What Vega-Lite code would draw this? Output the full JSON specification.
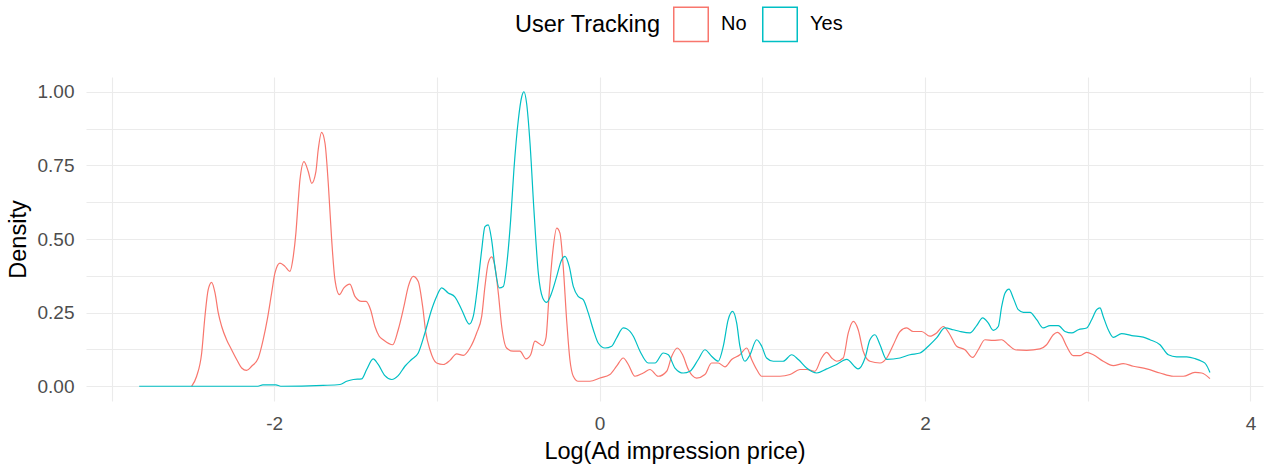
{
  "$schema": "https://vega.github.io/schema/vega-lite/v6.json",
  "width": 1177,
  "height": 324,
  "autosize": {"type": "none"},
  "padding": {"left": 86, "top": 77, "right": 5, "bottom": 67},
  "background": "white",
  "config": {
    "view": {"stroke": null},
    "font": "Liberation Sans",
    "axis": {"gridColor": "#EBEBEB", "gridWidth": 1.1, "domain": false, "ticks": false, "labelColor": "#4D4D4D", "labelFontSize": 19, "titleFontSize": 23.5, "titleFontWeight": "normal", "titleColor": "#000000"}
  },
  "data": {"values": [
{"x":-2.508,"y":0,"g":"No"},{"x":-2.477,"y":0.034,"g":"No"},{"x":-2.446,"y":0.113,"g":"No"},{"x":-2.426,"y":0.237,"g":"No"},{"x":-2.406,"y":0.328,"g":"No"},{"x":-2.385,"y":0.353,"g":"No"},{"x":-2.364,"y":0.317,"g":"No"},{"x":-2.344,"y":0.249,"g":"No"},{"x":-2.323,"y":0.203,"g":"No"},{"x":-2.293,"y":0.158,"g":"No"},{"x":-2.262,"y":0.124,"g":"No"},{"x":-2.231,"y":0.091,"g":"No"},{"x":-2.2,"y":0.062,"g":"No"},{"x":-2.17,"y":0.054,"g":"No"},{"x":-2.139,"y":0.068,"g":"No"},{"x":-2.098,"y":0.096,"g":"No"},{"x":-2.068,"y":0.158,"g":"No"},{"x":-2.043,"y":0.226,"g":"No"},{"x":-2.016,"y":0.317,"g":"No"},{"x":-1.996,"y":0.384,"g":"No"},{"x":-1.965,"y":0.418,"g":"No"},{"x":-1.934,"y":0.407,"g":"No"},{"x":-1.904,"y":0.39,"g":"No"},{"x":-1.883,"y":0.441,"g":"No"},{"x":-1.867,"y":0.52,"g":"No"},{"x":-1.852,"y":0.633,"g":"No"},{"x":-1.842,"y":0.701,"g":"No"},{"x":-1.817,"y":0.763,"g":"No"},{"x":-1.791,"y":0.729,"g":"No"},{"x":-1.77,"y":0.689,"g":"No"},{"x":-1.744,"y":0.729,"g":"No"},{"x":-1.73,"y":0.802,"g":"No"},{"x":-1.709,"y":0.862,"g":"No"},{"x":-1.688,"y":0.825,"g":"No"},{"x":-1.668,"y":0.689,"g":"No"},{"x":-1.647,"y":0.497,"g":"No"},{"x":-1.627,"y":0.362,"g":"No"},{"x":-1.6,"y":0.311,"g":"No"},{"x":-1.572,"y":0.334,"g":"No"},{"x":-1.535,"y":0.347,"g":"No"},{"x":-1.504,"y":0.305,"g":"No"},{"x":-1.463,"y":0.288,"g":"No"},{"x":-1.436,"y":0.288,"g":"No"},{"x":-1.408,"y":0.26,"g":"No"},{"x":-1.381,"y":0.203,"g":"No"},{"x":-1.355,"y":0.17,"g":"No"},{"x":-1.33,"y":0.158,"g":"No"},{"x":-1.272,"y":0.141,"g":"No"},{"x":-1.238,"y":0.192,"g":"No"},{"x":-1.203,"y":0.271,"g":"No"},{"x":-1.176,"y":0.339,"g":"No"},{"x":-1.146,"y":0.373,"g":"No"},{"x":-1.115,"y":0.356,"g":"No"},{"x":-1.088,"y":0.271,"g":"No"},{"x":-1.068,"y":0.181,"g":"No"},{"x":-1.043,"y":0.124,"g":"No"},{"x":-1.002,"y":0.079,"g":"No"},{"x":-0.961,"y":0.074,"g":"No"},{"x":-0.92,"y":0.088,"g":"No"},{"x":-0.879,"y":0.11,"g":"No"},{"x":-0.838,"y":0.105,"g":"No"},{"x":-0.797,"y":0.13,"g":"No"},{"x":-0.756,"y":0.181,"g":"No"},{"x":-0.725,"y":0.237,"g":"No"},{"x":-0.705,"y":0.339,"g":"No"},{"x":-0.685,"y":0.418,"g":"No"},{"x":-0.664,"y":0.439,"g":"No"},{"x":-0.644,"y":0.407,"g":"No"},{"x":-0.623,"y":0.317,"g":"No"},{"x":-0.602,"y":0.203,"g":"No"},{"x":-0.572,"y":0.13,"g":"No"},{"x":-0.531,"y":0.119,"g":"No"},{"x":-0.49,"y":0.119,"g":"No"},{"x":-0.453,"y":0.093,"g":"No"},{"x":-0.424,"y":0.107,"g":"No"},{"x":-0.398,"y":0.153,"g":"No"},{"x":-0.377,"y":0.147,"g":"No"},{"x":-0.35,"y":0.138,"g":"No"},{"x":-0.33,"y":0.164,"g":"No"},{"x":-0.31,"y":0.317,"g":"No"},{"x":-0.289,"y":0.452,"g":"No"},{"x":-0.264,"y":0.537,"g":"No"},{"x":-0.244,"y":0.52,"g":"No"},{"x":-0.224,"y":0.407,"g":"No"},{"x":-0.203,"y":0.226,"g":"No"},{"x":-0.183,"y":0.091,"g":"No"},{"x":-0.162,"y":0.034,"g":"No"},{"x":-0.132,"y":0.017,"g":"No"},{"x":-0.06,"y":0.017,"g":"No"},{"x":0.002,"y":0.028,"g":"No"},{"x":0.063,"y":0.04,"g":"No"},{"x":0.104,"y":0.068,"g":"No"},{"x":0.145,"y":0.096,"g":"No"},{"x":0.176,"y":0.074,"g":"No"},{"x":0.217,"y":0.034,"g":"No"},{"x":0.268,"y":0.045,"g":"No"},{"x":0.309,"y":0.057,"g":"No"},{"x":0.36,"y":0.034,"g":"No"},{"x":0.412,"y":0.051,"g":"No"},{"x":0.443,"y":0.102,"g":"No"},{"x":0.477,"y":0.13,"g":"No"},{"x":0.51,"y":0.107,"g":"No"},{"x":0.545,"y":0.057,"g":"No"},{"x":0.596,"y":0.028,"g":"No"},{"x":0.647,"y":0.04,"g":"No"},{"x":0.688,"y":0.079,"g":"No"},{"x":0.729,"y":0.079,"g":"No"},{"x":0.77,"y":0.066,"g":"No"},{"x":0.811,"y":0.091,"g":"No"},{"x":0.862,"y":0.107,"g":"No"},{"x":0.904,"y":0.13,"g":"No"},{"x":0.934,"y":0.091,"g":"No"},{"x":0.965,"y":0.057,"g":"No"},{"x":0.996,"y":0.034,"g":"No"},{"x":1.108,"y":0.034,"g":"No"},{"x":1.17,"y":0.04,"g":"No"},{"x":1.231,"y":0.057,"g":"No"},{"x":1.272,"y":0.057,"g":"No"},{"x":1.323,"y":0.051,"g":"No"},{"x":1.364,"y":0.096,"g":"No"},{"x":1.395,"y":0.115,"g":"No"},{"x":1.426,"y":0.096,"g":"No"},{"x":1.457,"y":0.085,"g":"No"},{"x":1.497,"y":0.096,"g":"No"},{"x":1.528,"y":0.181,"g":"No"},{"x":1.559,"y":0.22,"g":"No"},{"x":1.589,"y":0.192,"g":"No"},{"x":1.62,"y":0.119,"g":"No"},{"x":1.661,"y":0.085,"g":"No"},{"x":1.723,"y":0.079,"g":"No"},{"x":1.764,"y":0.096,"g":"No"},{"x":1.805,"y":0.141,"g":"No"},{"x":1.846,"y":0.186,"g":"No"},{"x":1.887,"y":0.198,"g":"No"},{"x":1.927,"y":0.186,"g":"No"},{"x":1.979,"y":0.186,"g":"No"},{"x":2.03,"y":0.17,"g":"No"},{"x":2.071,"y":0.181,"g":"No"},{"x":2.112,"y":0.203,"g":"No"},{"x":2.153,"y":0.175,"g":"No"},{"x":2.194,"y":0.136,"g":"No"},{"x":2.245,"y":0.124,"g":"No"},{"x":2.293,"y":0.098,"g":"No"},{"x":2.327,"y":0.124,"g":"No"},{"x":2.368,"y":0.158,"g":"No"},{"x":2.419,"y":0.156,"g":"No"},{"x":2.471,"y":0.158,"g":"No"},{"x":2.511,"y":0.141,"g":"No"},{"x":2.553,"y":0.124,"g":"No"},{"x":2.624,"y":0.122,"g":"No"},{"x":2.706,"y":0.127,"g":"No"},{"x":2.747,"y":0.141,"g":"No"},{"x":2.788,"y":0.175,"g":"No"},{"x":2.813,"y":0.183,"g":"No"},{"x":2.84,"y":0.17,"g":"No"},{"x":2.87,"y":0.136,"g":"No"},{"x":2.911,"y":0.104,"g":"No"},{"x":2.952,"y":0.104,"g":"No"},{"x":2.993,"y":0.115,"g":"No"},{"x":3.034,"y":0.107,"g":"No"},{"x":3.095,"y":0.085,"g":"No"},{"x":3.157,"y":0.07,"g":"No"},{"x":3.218,"y":0.077,"g":"No"},{"x":3.28,"y":0.068,"g":"No"},{"x":3.362,"y":0.059,"g":"No"},{"x":3.444,"y":0.045,"g":"No"},{"x":3.526,"y":0.034,"g":"No"},{"x":3.587,"y":0.034,"g":"No"},{"x":3.659,"y":0.047,"g":"No"},{"x":3.7,"y":0.045,"g":"No"},{"x":3.751,"y":0.026,"g":"No"},
{"x":-2.83,"y":0,"g":"Yes"},{"x":-2.1,"y":0,"g":"Yes"},{"x":-2.07,"y":0.005,"g":"Yes"},{"x":-1.99,"y":0.005,"g":"Yes"},{"x":-1.96,"y":0,"g":"Yes"},{"x":-1.7,"y":0.003,"g":"Yes"},{"x":-1.596,"y":0.006,"g":"Yes"},{"x":-1.555,"y":0.017,"g":"Yes"},{"x":-1.514,"y":0.023,"g":"Yes"},{"x":-1.463,"y":0.025,"g":"Yes"},{"x":-1.432,"y":0.057,"g":"Yes"},{"x":-1.392,"y":0.093,"g":"Yes"},{"x":-1.361,"y":0.074,"g":"Yes"},{"x":-1.32,"y":0.036,"g":"Yes"},{"x":-1.278,"y":0.023,"g":"Yes"},{"x":-1.238,"y":0.036,"g":"Yes"},{"x":-1.197,"y":0.068,"g":"Yes"},{"x":-1.156,"y":0.091,"g":"Yes"},{"x":-1.115,"y":0.113,"g":"Yes"},{"x":-1.074,"y":0.181,"g":"Yes"},{"x":-1.033,"y":0.26,"g":"Yes"},{"x":-1.002,"y":0.305,"g":"Yes"},{"x":-0.971,"y":0.334,"g":"Yes"},{"x":-0.931,"y":0.317,"g":"Yes"},{"x":-0.889,"y":0.303,"g":"Yes"},{"x":-0.848,"y":0.26,"g":"Yes"},{"x":-0.801,"y":0.211,"g":"Yes"},{"x":-0.777,"y":0.237,"g":"Yes"},{"x":-0.746,"y":0.36,"g":"Yes"},{"x":-0.725,"y":0.463,"g":"Yes"},{"x":-0.705,"y":0.542,"g":"Yes"},{"x":-0.685,"y":0.548,"g":"Yes"},{"x":-0.664,"y":0.497,"g":"Yes"},{"x":-0.644,"y":0.407,"g":"Yes"},{"x":-0.617,"y":0.334,"g":"Yes"},{"x":-0.592,"y":0.339,"g":"Yes"},{"x":-0.568,"y":0.429,"g":"Yes"},{"x":-0.547,"y":0.565,"g":"Yes"},{"x":-0.527,"y":0.735,"g":"Yes"},{"x":-0.5,"y":0.904,"g":"Yes"},{"x":-0.479,"y":0.983,"g":"Yes"},{"x":-0.465,"y":1.0,"g":"Yes"},{"x":-0.449,"y":0.961,"g":"Yes"},{"x":-0.428,"y":0.825,"g":"Yes"},{"x":-0.404,"y":0.599,"g":"Yes"},{"x":-0.377,"y":0.384,"g":"Yes"},{"x":-0.35,"y":0.3,"g":"Yes"},{"x":-0.326,"y":0.285,"g":"Yes"},{"x":-0.295,"y":0.317,"g":"Yes"},{"x":-0.264,"y":0.373,"g":"Yes"},{"x":-0.234,"y":0.429,"g":"Yes"},{"x":-0.213,"y":0.441,"g":"Yes"},{"x":-0.187,"y":0.407,"g":"Yes"},{"x":-0.162,"y":0.339,"g":"Yes"},{"x":-0.132,"y":0.305,"g":"Yes"},{"x":-0.101,"y":0.294,"g":"Yes"},{"x":-0.07,"y":0.249,"g":"Yes"},{"x":-0.039,"y":0.192,"g":"Yes"},{"x":-0.009,"y":0.147,"g":"Yes"},{"x":0.033,"y":0.13,"g":"Yes"},{"x":0.074,"y":0.136,"g":"Yes"},{"x":0.104,"y":0.164,"g":"Yes"},{"x":0.145,"y":0.198,"g":"Yes"},{"x":0.166,"y":0.195,"g":"Yes"},{"x":0.207,"y":0.17,"g":"Yes"},{"x":0.248,"y":0.119,"g":"Yes"},{"x":0.299,"y":0.079,"g":"Yes"},{"x":0.34,"y":0.079,"g":"Yes"},{"x":0.391,"y":0.113,"g":"Yes"},{"x":0.422,"y":0.107,"g":"Yes"},{"x":0.463,"y":0.062,"g":"Yes"},{"x":0.514,"y":0.045,"g":"Yes"},{"x":0.555,"y":0.051,"g":"Yes"},{"x":0.606,"y":0.091,"g":"Yes"},{"x":0.647,"y":0.124,"g":"Yes"},{"x":0.688,"y":0.102,"g":"Yes"},{"x":0.729,"y":0.085,"g":"Yes"},{"x":0.76,"y":0.136,"g":"Yes"},{"x":0.79,"y":0.226,"g":"Yes"},{"x":0.817,"y":0.254,"g":"Yes"},{"x":0.842,"y":0.215,"g":"Yes"},{"x":0.862,"y":0.136,"g":"Yes"},{"x":0.893,"y":0.085,"g":"Yes"},{"x":0.924,"y":0.107,"g":"Yes"},{"x":0.965,"y":0.158,"g":"Yes"},{"x":0.996,"y":0.136,"g":"Yes"},{"x":1.026,"y":0.096,"g":"Yes"},{"x":1.067,"y":0.085,"g":"Yes"},{"x":1.128,"y":0.085,"g":"Yes"},{"x":1.18,"y":0.107,"g":"Yes"},{"x":1.221,"y":0.091,"g":"Yes"},{"x":1.272,"y":0.062,"g":"Yes"},{"x":1.334,"y":0.045,"g":"Yes"},{"x":1.395,"y":0.059,"g":"Yes"},{"x":1.457,"y":0.074,"g":"Yes"},{"x":1.518,"y":0.091,"g":"Yes"},{"x":1.589,"y":0.059,"g":"Yes"},{"x":1.631,"y":0.096,"g":"Yes"},{"x":1.661,"y":0.158,"g":"Yes"},{"x":1.692,"y":0.175,"g":"Yes"},{"x":1.723,"y":0.141,"g":"Yes"},{"x":1.764,"y":0.091,"g":"Yes"},{"x":1.846,"y":0.096,"g":"Yes"},{"x":1.907,"y":0.107,"g":"Yes"},{"x":1.969,"y":0.113,"g":"Yes"},{"x":2.02,"y":0.136,"g":"Yes"},{"x":2.071,"y":0.164,"g":"Yes"},{"x":2.122,"y":0.198,"g":"Yes"},{"x":2.173,"y":0.192,"g":"Yes"},{"x":2.215,"y":0.186,"g":"Yes"},{"x":2.276,"y":0.181,"g":"Yes"},{"x":2.317,"y":0.206,"g":"Yes"},{"x":2.354,"y":0.232,"g":"Yes"},{"x":2.388,"y":0.215,"g":"Yes"},{"x":2.419,"y":0.19,"g":"Yes"},{"x":2.45,"y":0.203,"g":"Yes"},{"x":2.471,"y":0.271,"g":"Yes"},{"x":2.491,"y":0.316,"g":"Yes"},{"x":2.516,"y":0.33,"g":"Yes"},{"x":2.542,"y":0.3,"g":"Yes"},{"x":2.573,"y":0.26,"g":"Yes"},{"x":2.604,"y":0.251,"g":"Yes"},{"x":2.645,"y":0.251,"g":"Yes"},{"x":2.686,"y":0.226,"g":"Yes"},{"x":2.726,"y":0.198,"g":"Yes"},{"x":2.768,"y":0.206,"g":"Yes"},{"x":2.819,"y":0.206,"g":"Yes"},{"x":2.86,"y":0.186,"g":"Yes"},{"x":2.901,"y":0.181,"g":"Yes"},{"x":2.942,"y":0.192,"g":"Yes"},{"x":2.993,"y":0.198,"g":"Yes"},{"x":3.024,"y":0.226,"g":"Yes"},{"x":3.055,"y":0.26,"g":"Yes"},{"x":3.075,"y":0.266,"g":"Yes"},{"x":3.095,"y":0.237,"g":"Yes"},{"x":3.126,"y":0.192,"g":"Yes"},{"x":3.157,"y":0.166,"g":"Yes"},{"x":3.208,"y":0.179,"g":"Yes"},{"x":3.27,"y":0.172,"g":"Yes"},{"x":3.341,"y":0.167,"g":"Yes"},{"x":3.382,"y":0.158,"g":"Yes"},{"x":3.444,"y":0.141,"g":"Yes"},{"x":3.495,"y":0.107,"g":"Yes"},{"x":3.546,"y":0.1,"g":"Yes"},{"x":3.608,"y":0.1,"g":"Yes"},{"x":3.659,"y":0.094,"g":"Yes"},{"x":3.7,"y":0.085,"g":"Yes"},{"x":3.727,"y":0.074,"g":"Yes"},{"x":3.751,"y":0.047,"g":"Yes"}
  ]},
  "mark": {"type": "line", "strokeWidth": 1.2, "interpolate": "monotone"},
  "encoding": {
    "x": {"field": "x", "type": "quantitative", "title": "Log(Ad impression price)",
      "scale": {"domain": [-3.157, 4.077], "nice": false, "zero": false},
      "axis": {"values": [-3, -2, -1, 0, 1, 2, 3, 4], "labelExpr": "datum.value % 2 == 0 ? '' + datum.value : ''", "labelPadding": 13, "titlePadding": 6}},
    "y": {"field": "y", "type": "quantitative", "title": "Density",
      "scale": {"domain": [-0.05, 1.05], "nice": false, "zero": false},
      "axis": {"values": [0, 0.125, 0.25, 0.375, 0.5, 0.625, 0.75, 0.875, 1], "labelExpr": "(datum.value * 4) % 1 == 0 ? format(datum.value, '.2f') : ''", "labelPadding": 12, "titlePadding": 7}},
    "color": {"field": "g", "type": "nominal", "title": "User Tracking",
      "scale": {"domain": ["No", "Yes"], "range": ["#F8766D", "#00BFC4"]},
      "legend": {"orient": "none", "legendX": 429, "legendY": -71, "direction": "horizontal", "titleOrient": "left", "titleFontSize": 23.5, "titleFontWeight": "normal", "titleColor": "#000000", "titlePadding": 12, "labelFontSize": 20, "labelColor": "#000000", "labelOffset": 12, "columnPadding": 12, "symbolType": "square", "symbolSize": 1190, "symbolStrokeWidth": 1.5, "symbolFillColor": "transparent", "padding": 0}}
  }
}
